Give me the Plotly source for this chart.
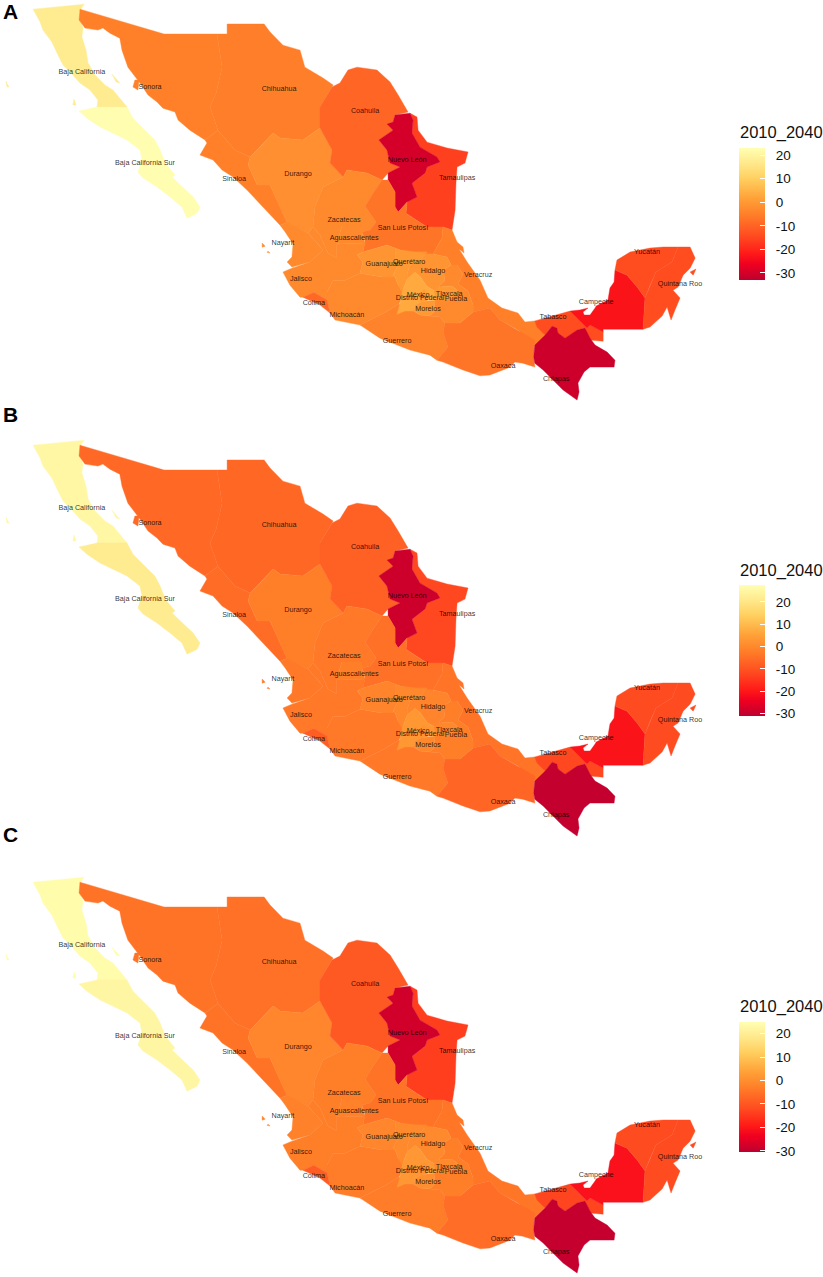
import plotly.graph_objects as go
from plotly.colors import sample_colorscale

# state outlines, (lon, lat)
baja_california = [(-116.96,32.42),(-114.63,32.65),(-114.86,32.29),(-114.82,31.92),(-114.68,31.55),(-114.73,31.14),(-114.54,30.54),(-114.45,29.95),(-114.13,29.4),(-113.68,28.94),(-113.31,28.71),(-112.67,27.93),(-114.04,27.93),(-114.0,28.25),(-114.36,28.71),(-114.82,29.03),(-115.14,29.4),(-115.59,29.86),(-115.82,30.31),(-116.1,30.91),(-116.51,31.46),(-116.64,31.83)]
isla_guadalupe = [(-118.2,29.12),(-118.06,28.85),(-118.15,28.85)]
isla_cedros = [(-115.09,28.3),(-115.0,28.02),(-115.14,28.02)]
isla_angel = [(-113.36,29.44),(-113.0,29.03),(-113.17,29.08)]
baja_california_sur = [(-114.86,27.75),(-114.04,27.93),(-112.67,27.93),(-112.4,27.42),(-112.08,27.1),(-111.71,26.74),(-111.4,26.42),(-111.16,25.96),(-110.93,25.36),(-110.48,24.81),(-110.61,24.72),(-110.38,24.49),(-109.65,23.8),(-109.34,23.34),(-109.47,23.06),(-109.93,22.83),(-110.16,23.34),(-110.7,23.8),(-111.3,24.26),(-111.94,24.67),(-112.17,24.95),(-111.99,25.5),(-112.08,25.96),(-112.67,26.42),(-113.31,26.74),(-113.9,27.01),(-114.5,27.42)]
sonora = [(-114.82,32.42),(-110.98,31.28),(-108.56,31.28),(-108.33,29.76),(-108.6,28.57),(-108.88,27.93),(-108.52,26.87),(-109.11,26.42),(-109.8,26.87),(-110.34,27.33),(-110.48,27.7),(-111.03,27.88),(-111.3,28.16),(-111.71,28.48),(-112.08,29.03),(-112.63,29.76),(-112.9,30.54),(-113.0,31.09),(-113.45,31.32),(-113.77,31.55),(-114.0,31.46),(-114.59,31.55),(-114.86,31.92)]
isla_tiburon = [(-112.31,29.17),(-112.12,29.17),(-112.17,28.71),(-112.4,28.85)]
chihuahua = [(-108.56,31.28),(-108.1,31.28),(-108.1,31.74),(-106.41,31.74),(-106.14,31.37),(-105.55,30.77),(-104.77,30.54),(-104.55,29.76),(-103.72,29.26),(-103.26,28.94),(-103.86,27.93),(-103.86,26.97),(-104.64,26.42),(-105.68,26.51),(-106.0,26.74),(-106.6,26.1),(-107.05,25.64),(-107.74,25.96),(-108.52,26.87),(-108.88,27.93),(-108.6,28.57),(-108.33,29.76)]
sinaloa = [(-109.11,26.42),(-108.52,26.87),(-107.74,25.96),(-107.05,25.64),(-107.14,25.27),(-106.73,24.35),(-106.14,24.35),(-105.36,22.65),(-105.68,22.51),(-106.46,23.34),(-107.19,24.12),(-107.83,24.72),(-108.33,25.04),(-108.74,25.5),(-109.34,25.73),(-109.02,26.28)]
durango = [(-106.0,26.74),(-105.68,26.51),(-104.64,26.42),(-103.86,26.97),(-103.31,25.96),(-103.4,25.36),(-102.8,24.72),(-103.72,24.26),(-104.09,23.34),(-104.18,22.43),(-104.41,22.15),(-105.36,22.6),(-106.14,24.35),(-106.73,24.35),(-107.14,25.27),(-107.05,25.64),(-106.6,26.1)]
coahuila = [(-103.31,28.85),(-102.95,29.03),(-102.58,29.63),(-102.17,29.76),(-101.26,29.63),(-100.66,29.08),(-100.29,28.48),(-99.84,27.7),(-100.43,27.56),(-100.52,27.24),(-100.8,27.15),(-100.52,26.87),(-101.17,26.42),(-100.8,25.96),(-100.66,25.36),(-100.2,25.18),(-100.75,24.91),(-101.03,24.58),(-101.72,24.91),(-102.63,25.04),(-102.8,24.72),(-103.4,25.36),(-103.31,25.96),(-103.86,26.97),(-103.86,27.93)]
nuevo_leon = [(-100.43,27.56),(-99.75,27.65),(-99.61,27.33),(-99.66,26.74),(-99.29,26.09),(-98.52,25.64),(-98.38,25.41),(-98.97,25.18),(-99.06,24.91),(-99.66,24.44),(-99.43,23.8),(-99.88,23.57),(-100.29,23.11),(-100.43,23.34),(-100.43,24.03),(-100.75,24.58),(-100.75,24.91),(-100.2,25.18),(-100.66,25.36),(-100.8,25.96),(-101.17,26.42),(-100.52,26.87),(-100.8,27.15),(-100.52,27.24)]
tamaulipas = [(-99.75,27.65),(-99.43,27.47),(-99.38,26.87),(-98.97,26.32),(-98.06,26.05),(-97.1,25.87),(-97.24,25.36),(-97.6,25.18),(-97.65,24.44),(-97.69,23.2),(-97.83,22.29),(-98.24,22.43),(-98.97,22.43),(-99.61,22.84),(-99.93,23.06),(-99.88,23.57),(-99.43,23.8),(-99.66,24.44),(-99.06,24.91),(-98.97,25.18),(-98.38,25.41),(-98.52,25.64),(-99.29,26.09),(-99.66,26.74),(-99.61,27.33)]
zacatecas = [(-102.8,24.72),(-102.63,25.04),(-101.72,24.91),(-101.03,24.58),(-101.44,23.98),(-101.8,23.38),(-101.3,22.66),(-101.58,22.29),(-101.94,22.2),(-101.94,22.47),(-102.86,22.47),(-103.09,21.69),(-103.09,21.0),(-103.5,21.23),(-103.86,22.06),(-104.18,22.43),(-104.09,23.34),(-103.72,24.26)]
aguascalientes = [(-102.86,22.47),(-101.94,22.47),(-101.94,22.2),(-101.8,21.69),(-102.95,21.65),(-103.09,21.69)]
san_luis_potosi = [(-101.44,23.98),(-101.03,24.58),(-100.75,24.58),(-100.43,24.03),(-100.43,23.34),(-100.29,23.11),(-99.88,23.57),(-99.93,23.06),(-99.61,22.84),(-98.97,22.43),(-98.24,22.43),(-98.29,21.92),(-98.7,21.19),(-99.29,21.14),(-100.2,21.37),(-100.8,21.6),(-101.58,21.37),(-101.9,21.28),(-101.8,21.78),(-101.94,22.2),(-101.58,22.29),(-101.3,22.66),(-101.8,23.38)]
nayarit = [(-105.36,22.65),(-104.41,22.15),(-103.72,21.37),(-104.32,20.82),(-105.14,20.59),(-105.36,20.82),(-105.14,21.05),(-105.09,21.65),(-105.45,22.2),(-105.68,22.51)]
islas_marias_1 = [(-106.5,21.69),(-106.36,21.55),(-106.5,21.5)]
islas_marias_2 = [(-106.23,21.32),(-106.14,21.23),(-106.28,21.27)]
jalisco = [(-105.55,20.36),(-105.14,20.54),(-104.32,20.82),(-103.72,21.37),(-104.41,22.15),(-104.18,22.43),(-103.86,22.06),(-103.5,21.23),(-103.09,21.0),(-103.09,21.69),(-102.95,21.65),(-101.8,21.69),(-101.9,21.28),(-102.17,21.14),(-101.9,20.82),(-102.03,20.31),(-102.72,19.99),(-103.26,19.99),(-103.54,19.44),(-103.54,19.08),(-104.14,19.44),(-104.64,19.21),(-104.77,19.21),(-105.23,19.76)]
colima = [(-104.64,19.21),(-104.14,19.44),(-103.54,19.08),(-103.4,18.48),(-103.86,18.85)]
michoacan = [(-103.54,19.08),(-103.4,18.48),(-103.17,18.16),(-102.03,17.93),(-100.93,18.48),(-100.25,18.89),(-99.98,19.44),(-100.29,19.76),(-100.43,20.13),(-101.03,20.13),(-102.03,20.31),(-102.72,19.99),(-103.26,19.99),(-103.54,19.44)]
guerrero = [(-102.03,17.93),(-101.12,17.33),(-99.75,16.78),(-98.84,16.55),(-98.52,16.32),(-98.02,16.92),(-98.24,17.61),(-98.15,18.02),(-98.38,18.3),(-98.84,18.34),(-99.29,18.39),(-99.66,18.62),(-100.25,18.89),(-100.93,18.48)]
guanajuato = [(-102.17,21.14),(-101.9,21.28),(-101.58,21.37),(-100.8,21.6),(-100.43,21.46),(-100.43,21.0),(-100.29,20.68),(-100.52,20.22),(-100.43,20.13),(-101.03,20.13),(-102.03,20.31),(-101.9,20.82)]
queretaro = [(-100.43,21.46),(-100.2,21.37),(-99.43,21.28),(-98.97,21.28),(-99.29,20.91),(-99.75,20.68),(-99.88,20.31),(-99.88,20.04),(-100.11,19.44),(-100.29,19.76),(-100.43,20.13),(-100.52,20.22),(-100.29,20.68),(-100.43,21.0)]
hidalgo = [(-99.43,21.28),(-98.7,21.19),(-98.06,21.05),(-97.87,20.68),(-98.24,20.45),(-98.15,19.99),(-98.38,19.76),(-98.52,19.44),(-98.97,19.7),(-99.29,20.16),(-99.52,20.34),(-99.88,20.04),(-99.88,20.31),(-99.75,20.68),(-99.29,20.91),(-98.97,21.28)]
mexico = [(-100.34,18.43),(-100.2,18.94),(-100.11,19.44),(-99.88,20.04),(-99.52,20.36),(-99.29,20.16),(-98.97,19.7),(-98.52,19.44),(-98.61,19.03),(-99.06,19.08),(-99.52,18.85),(-99.57,18.57),(-99.98,18.57)]
distrito_federal = [(-99.34,19.26),(-99.11,19.58),(-98.93,19.35),(-98.97,19.03),(-99.25,18.99)]
morelos = [(-99.52,18.85),(-99.25,18.99),(-98.97,19.03),(-98.65,19.03),(-98.61,18.57),(-98.84,18.34),(-99.29,18.39),(-99.57,18.57)]
tlaxcala = [(-98.65,19.49),(-98.38,19.67),(-97.83,19.72),(-97.56,19.49),(-97.83,19.21),(-98.2,19.08),(-98.56,19.12)]
puebla = [(-97.87,20.68),(-97.6,20.68),(-97.33,20.27),(-97.56,19.81),(-97.1,19.49),(-96.87,18.85),(-96.87,18.53),(-97.47,18.02),(-98.15,18.02),(-98.38,18.3),(-98.84,18.34),(-98.61,18.57),(-98.65,19.03),(-98.56,19.12),(-98.2,19.08),(-97.83,19.21),(-97.56,19.49),(-97.83,19.72),(-98.38,19.67),(-98.52,19.44),(-98.38,19.76),(-98.15,19.99),(-98.24,20.45)]
veracruz = [(-97.83,22.29),(-97.6,21.74),(-97.33,21.51),(-97.28,21.23),(-97.51,21.42),(-97.14,20.82),(-96.55,19.99),(-96.19,19.17),(-95.55,18.71),(-94.82,18.48),(-94.5,18.07),(-94.05,18.12),(-93.58,17.47),(-94.05,17.01),(-94.82,17.7),(-95.64,18.16),(-96.1,18.71),(-96.87,18.53),(-96.87,18.85),(-97.1,19.49),(-97.56,19.81),(-97.33,20.27),(-97.6,20.68),(-97.87,20.68),(-98.06,21.05),(-98.7,21.19),(-98.29,21.92),(-98.24,22.43)]
oaxaca = [(-98.15,18.02),(-97.47,18.02),(-96.87,18.53),(-96.1,18.71),(-95.64,18.16),(-94.82,17.7),(-94.05,17.24),(-94.1,16.46),(-94.05,16.0),(-94.6,16.18),(-94.96,16.23),(-95.18,16.0),(-96.1,15.64),(-96.55,15.6),(-97.33,15.87),(-98.24,16.23),(-98.52,16.32),(-98.02,16.92),(-98.24,17.61)]
chiapas = [(-93.58,17.47),(-93.26,17.88),(-93.04,17.79),(-92.99,17.56),(-92.67,17.33),(-92.12,17.7),(-91.76,17.79),(-91.53,17.33),(-91.3,17.01),(-90.75,16.69),(-90.39,16.32),(-90.43,16.0),(-91.53,16.0),(-91.8,15.78),(-92.08,15.27),(-92.03,14.86),(-92.12,14.49),(-92.76,14.95),(-93.22,15.41),(-93.67,15.87),(-94.05,16.18),(-94.1,16.46),(-94.05,17.01)]
tabasco = [(-94.05,18.12),(-92.76,18.48),(-92.44,18.57),(-92.12,18.25),(-91.67,17.79),(-91.53,17.93),(-90.93,17.61),(-90.93,17.19),(-91.53,17.24),(-91.76,17.79),(-92.12,17.7),(-92.67,17.33),(-92.99,17.56),(-93.04,17.79),(-93.26,17.88),(-93.58,17.47),(-93.95,17.84)]
campeche = [(-92.44,18.57),(-91.99,18.62),(-91.62,18.71),(-91.85,18.53),(-91.8,18.39),(-91.53,18.39),(-91.3,18.71),(-91.25,18.8),(-90.71,19.08),(-90.62,19.63),(-90.43,19.9),(-90.39,20.45),(-89.84,20.22),(-89.38,19.67),(-89.02,19.17),(-89.11,17.74),(-90.93,17.74),(-90.93,17.61),(-91.53,17.93),(-91.67,17.79),(-92.12,18.25)]
yucatan = [(-90.39,20.45),(-90.3,20.91),(-89.7,21.28),(-88.79,21.46),(-88.19,21.51),(-87.51,21.51),(-87.79,20.82),(-88.52,20.36),(-88.79,19.76),(-89.02,19.17),(-89.38,19.67),(-89.84,20.22)]
quintana_roo = [(-87.51,21.51),(-86.96,21.51),(-86.73,21.0),(-86.96,20.54),(-87.28,20.22),(-87.51,19.67),(-87.74,19.53),(-87.42,19.17),(-87.65,18.62),(-87.83,18.16),(-88.01,18.76),(-88.24,18.34),(-88.79,17.84),(-89.11,17.74),(-89.02,19.17),(-88.79,19.76),(-88.52,20.36),(-87.79,20.82)]
isla_cozumel = [(-86.96,20.36),(-86.69,20.5),(-86.82,20.22)]

# drawing order matters a bit, small inland states go on top
state_names = ["Baja California","Baja California Sur","Sonora","Chihuahua","Sinaloa","Durango","Coahuila","Tamaulipas","Nuevo León","Zacatecas","San Luis Potosí","Aguascalientes","Nayarit","Jalisco","Michoacán","Colima","Guerrero","Veracruz","Oaxaca","Puebla","Guanajuato","Querétaro","Hidalgo","México","Morelos","Tlaxcala","Distrito Federal","Tabasco","Chiapas","Campeche","Yucatán","Quintana Roo"]
state_parts = [[baja_california,isla_guadalupe,isla_cedros,isla_angel],[baja_california_sur],[sonora,isla_tiburon],[chihuahua],[sinaloa],[durango],[coahuila],[tamaulipas],[nuevo_leon],[zacatecas],[san_luis_potosi],[aguascalientes],[nayarit,islas_marias_1,islas_marias_2],[jalisco],[michoacan],[colima],[guerrero],[veracruz],[oaxaca],[puebla],[guanajuato],[queretaro],[hidalgo],[mexico],[morelos],[tlaxcala],[distrito_federal],[tabasco],[chiapas],[campeche],[yucatan],[quintana_roo,isla_cozumel]]

# change 2010_2040, one value per state, same order as state_names
values_a = [17.5,22.5,-5,-5.3,-5,-2,-9.5,-16,-30,-3,-7,-3,-3,-3,-3,-9,-4.5,-5,-7,-3,-1,0,-1,3,0,0,1,-14,-31,-23,-14,-14]
values_b = [25,21.6,-6,-6.3,-5.5,-2,-7.5,-12,-29,-3,-4.5,-2,-3,-3,-3,-8,-3,-4,-6.5,-2,-1,0,-1,3,0,0,2,-12,-30,-20.5,-11.5,-11.5]
values_c = [24,22.5,-5,-5.3,-5,-1.5,-9.5,-14,-28,-3,-5,-2.5,-2.5,-3,-3.5,-9,-3.5,-4.5,-6,-3,-1.5,-1,-1,2,0,-1,1,-13,-29.5,-21,-12,-12]

label_names = ["Baja California","Baja California Sur","Sonora","Chihuahua","Coahuila","Nuevo León","Tamaulipas","Sinaloa","Durango","Zacatecas","San Luis Potosí","Aguascalientes","Nayarit","Guanajuato","Querétaro","Hidalgo","Jalisco","Veracruz","México","Distrito Federal","Tlaxcala","Puebla","Colima","Michoacán","Morelos","Guerrero","Oaxaca","Chiapas","Tabasco","Campeche","Yucatán","Quintana Roo"]
label_lon = [-114.73,-111.85,-111.62,-105.73,-101.8,-99.88,-97.6,-107.78,-104.86,-102.76,-100.07,-102.3,-105.55,-100.93,-99.79,-98.7,-104.73,-96.64,-99.38,-99.29,-97.96,-97.65,-104.14,-102.63,-98.93,-100.34,-95.5,-93.08,-93.22,-91.25,-88.93,-87.42]
label_lat = [29.53,25.36,28.85,28.76,27.75,25.5,24.67,24.63,24.86,22.75,22.38,21.92,21.69,20.73,20.82,20.41,20.04,20.22,19.3,19.17,19.35,19.12,18.94,18.39,18.66,17.2,16.05,15.46,18.3,18.99,21.28,19.81]

legend_ticks = [-30,-20,-10,0,10,20]
legend_labels = ["-30","-20","-10","0","10","20"]
colors = [[0,"#BD0030"],[0.12,"#F00020"],[0.2,"#FF1A18"],[0.33,"#FF4A20"],[0.5,"#FF8029"],[0.62,"#FFA238"],[0.77,"#FFD060"],[0.88,"#FFE88A"],[1,"#FFFFB2"]]

W, H = 823, 1277
DEG_X, DEG_Y = 0.04566, 0.04587  # degrees per pixel
LON0, LAT0 = -118.47, 32.84
MAP_W = 708

# panel: letter, values, top px, bottom px, color range, legend bar top, legend bar height, letter y
panels = [
    ("A", values_a, 0, 410, -33, 23, 148, 132, 12),
    ("B", values_b, 436, 846, -31, 27.5, 585, 131, 414),
    ("C", values_c, 873, 1277, -30.5, 25, 1022, 130, 834),
]

fig = go.Figure()
layout = {}
for i, (letter, vals, top, bottom, zmin, zmax, bar_top, bar_len, letter_y) in enumerate(panels, start=1):
    sfx = "" if i == 1 else str(i)
    layout["xaxis" + sfx] = dict(domain=[0, MAP_W / W], range=[LON0, LON0 + MAP_W * DEG_X], visible=False, fixedrange=True)
    layout["yaxis" + sfx] = dict(domain=[1 - bottom / H, 1 - top / H], range=[LAT0 - (bottom - top) * DEG_Y, LAT0], visible=False, fixedrange=True)
    layout["coloraxis" + sfx] = dict(
        colorscale=colors, cmin=zmin, cmax=zmax,
        colorbar=dict(
            x=739 / W, xanchor="left", xpad=0, y=1 - bar_top / H, yanchor="top", ypad=0,
            thickness=26, thicknessmode="pixels", len=bar_len, lenmode="pixels",
            tickmode="array", tickvals=legend_ticks,
            # nbsp keeps the labels off the bar, ggplot leaves a wider gap than plotly
            ticktext=["\u00a0\u00a0" + t for t in legend_labels],
            ticks="inside", ticklen=5, tickcolor="white", tickwidth=1,
            tickfont=dict(family="Liberation Sans", size=13.5, color="#111111"),
            outlinewidth=0, borderwidth=0,
        ),
    )
    for name, parts, v in zip(state_names, state_parts, vals):
        xs, ys = [], []
        for part in parts:
            xs += [p[0] for p in part] + [part[0][0], None]
            ys += [p[1] for p in part] + [part[0][1], None]
        col = sample_colorscale(colors, (v - zmin) / (zmax - zmin))[0]
        fig.add_trace(go.Scatter(x=xs, y=ys, mode="lines", fill="toself", fillcolor=col,
                                 line=dict(color=col, width=0.4), name=name, hoverinfo="name",
                                 showlegend=False, xaxis="x" + sfx, yaxis="y" + sfx))
    # invisible points, only there to feed the colorbar
    fig.add_trace(go.Scatter(x=label_lon[:len(vals)], y=label_lat[:len(vals)], mode="markers",
                             marker=dict(color=vals, coloraxis="coloraxis" + sfx, size=1, opacity=0),
                             hoverinfo="skip", showlegend=False, xaxis="x" + sfx, yaxis="y" + sfx))
    fig.add_trace(go.Scatter(x=label_lon, y=label_lat, mode="text", text=label_names,
                             textfont=dict(family="Liberation Sans", size=7.2, color="rgba(0,0,0,0.82)"),
                             textposition="middle center", hoverinfo="skip", showlegend=False,
                             xaxis="x" + sfx, yaxis="y" + sfx))
    fig.add_annotation(text="<b>%s</b>" % letter, xref="paper", yref="paper", x=1 / W, xanchor="left",
                       y=1 - letter_y / H, yanchor="middle", showarrow=False,
                       font=dict(family="Liberation Sans", size=21, color="black"))
    # legend title as annotation, a colorbar title would eat into the bar length
    fig.add_annotation(text="2010_2040", xref="paper", yref="paper", x=739 / W, xanchor="left", xshift=-1,
                       y=1 - (bar_top - 15) / H, yanchor="middle", showarrow=False,
                       font=dict(family="Liberation Sans", size=16.5, color="#111111"))

fig.update_layout(width=W, height=H, margin=dict(l=0, r=0, t=0, b=0),
                  plot_bgcolor="white", paper_bgcolor="white", **layout)
# the page's default body margin would push the figure off the window
fig.write_html("out.html", config={"displayModeBar": False}, post_script="document.body.style.margin='0';")
